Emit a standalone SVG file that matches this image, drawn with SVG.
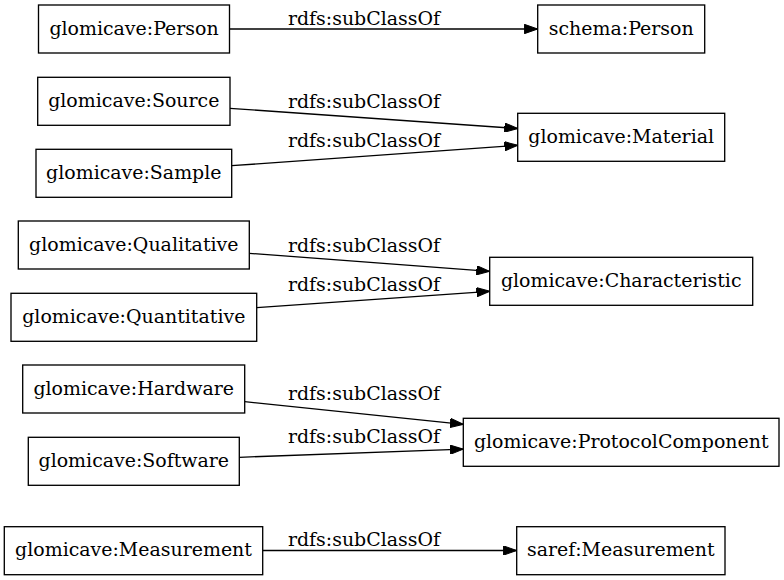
<svg xmlns="http://www.w3.org/2000/svg" width="784" height="580" viewBox="0 0 784 580">
<style>
.node rect{fill:#fff;stroke:#000;stroke-width:1.33}
.node text,.lbl{font-family:"DejaVu Serif","Liberation Serif",serif;font-size:18.95px;fill:#000;text-anchor:middle}
.edge{stroke:#000;stroke-width:1.33;fill:none;marker-end:url(#arr)}
</style>
<defs>
<marker id="arr" viewBox="0 0 13.3 9.34" refX="13.3" refY="4.67" markerWidth="13.3" markerHeight="9.34" markerUnits="userSpaceOnUse" orient="auto">
<path d="M0,0 L13.3,4.67 L0,9.34 z" fill="#000" stroke="#000" stroke-width="1"/>
</marker>
</defs>
<rect width="784" height="580" fill="#fff"/>
<g id="connectors">
<path class="edge" d="M229.5,29 L537.7,29"/>
<path class="edge" d="M230,108.3 L517.7,128.5"/>
<path class="edge" d="M231.7,165.7 L517.7,145.3"/>
<path class="edge" d="M249.3,253.3 L489.7,271.3"/>
<path class="edge" d="M256.7,307.7 L489.7,291.3"/>
<path class="edge" d="M244.7,401.7 L463.3,424.3"/>
<path class="edge" d="M239.3,457.3 L463.3,449.2"/>
<path class="edge" d="M262.7,550.5 L516.7,550.5"/>
<text class="lbl" x="364" y="24.7">rdfs:subClassOf</text>
<text class="lbl" x="364" y="108">rdfs:subClassOf</text>
<text class="lbl" x="364" y="146.7">rdfs:subClassOf</text>
<text class="lbl" x="364" y="252.3">rdfs:subClassOf</text>
<text class="lbl" x="364" y="290.7">rdfs:subClassOf</text>
<text class="lbl" x="364" y="400">rdfs:subClassOf</text>
<text class="lbl" x="364" y="443.3">rdfs:subClassOf</text>
<text class="lbl" x="364" y="546">rdfs:subClassOf</text>
</g>
<g id="glomicave_Person" class="node"><rect x="38.5" y="5" width="191" height="48"/><text x="134" y="34.5">glomicave:Person</text></g>
<g id="schema_Person" class="node"><rect x="537.7" y="5" width="167" height="48"/><text x="621.2" y="34.5">schema:Person</text></g>
<g id="glomicave_Source" class="node"><rect x="37.7" y="77.3" width="192.3" height="48"/><text x="133.8" y="106.7">glomicave:Source</text></g>
<g id="glomicave_Sample" class="node"><rect x="36" y="149.3" width="195.7" height="48"/><text x="133.8" y="178.5">glomicave:Sample</text></g>
<g id="glomicave_Material" class="node"><rect x="517.7" y="113.3" width="207" height="48"/><text x="621.2" y="142.7">glomicave:Material</text></g>
<g id="glomicave_Qualitative" class="node"><rect x="18.3" y="221" width="231" height="48"/><text x="133.8" y="250.5">glomicave:Qualitative</text></g>
<g id="glomicave_Quantitative" class="node"><rect x="11" y="293.3" width="245.7" height="48"/><text x="133.8" y="322.7">glomicave:Quantitative</text></g>
<g id="glomicave_Characteristic" class="node"><rect x="489.7" y="257.3" width="263" height="48"/><text x="621.2" y="286.7">glomicave:Characteristic</text></g>
<g id="glomicave_Hardware" class="node"><rect x="22.7" y="365" width="222" height="48"/><text x="133.7" y="394.5">glomicave:Hardware</text></g>
<g id="glomicave_Software" class="node"><rect x="28.3" y="437.3" width="211" height="48"/><text x="133.8" y="466.7">glomicave:Software</text></g>
<g id="glomicave_ProtocolComponent" class="node"><rect x="463.3" y="418.3" width="315.7" height="48"/><text x="621.2" y="447.7">glomicave:ProtocolComponent</text></g>
<g id="glomicave_Measurement" class="node"><rect x="4.3" y="526.7" width="258.4" height="48"/><text x="133.5" y="556">glomicave:Measurement</text></g>
<g id="saref_Measurement" class="node"><rect x="516.7" y="526.7" width="208.3" height="48"/><text x="620.8" y="556">saref:Measurement</text></g>
</svg>
